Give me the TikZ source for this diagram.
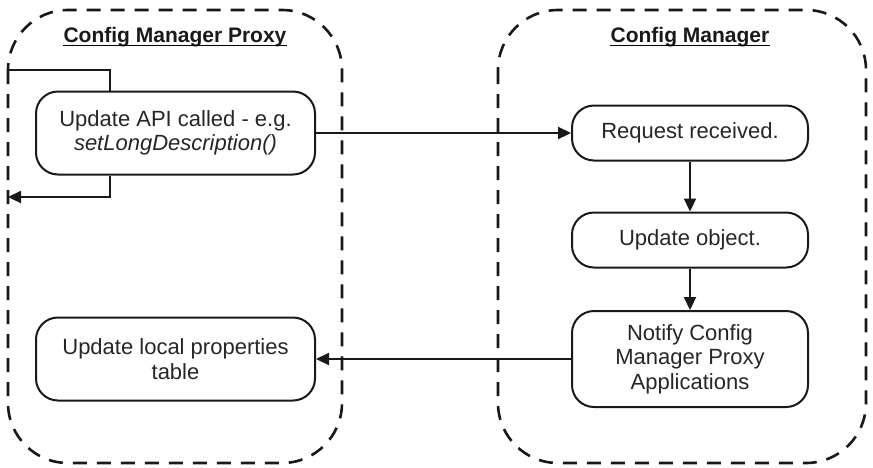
\documentclass[tikz,border=0pt]{standalone}
\usepackage{fontspec}
\setmainfont{Liberation Sans}
\usetikzlibrary{arrows.meta}
\begin{document}
\begin{tikzpicture}[x=1pt,y=-1pt,
  container/.style={draw=black!90, line width=2.6pt, dash pattern=on 14pt off 10pt, rounded corners=60pt},
  stepbox/.style={draw=black!90, line width=2pt, rounded corners=22pt, align=center, inner sep=0pt,
    font=\fontsize{22}{24.5}\selectfont, text=black!85},
  title/.style={font=\fontsize{21}{24}\selectfont\bfseries, inner sep=0pt, anchor=base, text=black!90},
  conn/.style={line width=2.2pt, draw=black!90},
  arr/.style={conn, -{Triangle[length=13pt,width=12pt]}}]
\useasboundingbox (0,0) rectangle (873,467);
% containers
\draw[container] (8,10) rectangle (342,463);
\draw[container] (498,10) rectangle (866,463);
% titles
\node[title] (t1) at (175,42) {Config Manager Proxy};
\node[title] (t2) at (690,42) {Config Manager};
\draw[line width=1.5pt] ([yshift=-3.5pt]t1.base west) -- ([yshift=-3.5pt]t1.base east);
\draw[line width=1.5pt] ([yshift=-3.5pt]t2.base west) -- ([yshift=-3.5pt]t2.base east);
% nodes
\node[stepbox, minimum width=279pt, minimum height=83pt] (api) at (175.5,133)
  {Update API called - e.g.\\ \itshape setLongDescription()};
\node[stepbox, minimum width=236pt, minimum height=55pt] (req) at (690,133) {Request received.};
\node[stepbox, minimum width=236pt, minimum height=55pt] (obj) at (690,240) {Update object.};
\node[stepbox, minimum width=236pt, minimum height=96pt] (notify) at (690,359)
  {Notify Config\\Manager Proxy\\Applications};
\node[stepbox, minimum width=279pt, minimum height=83pt] (local) at (175.5,359)
  {Update local properties\\table};
% connectors
\coordinate (inpt) at (8,70);
\coordinate (outpt) at (8,197);
\draw[conn] (inpt) -- (110,70) -- (api.north -| 110,0);
\draw[arr] (api.south -| 110,0) -- (110,197) -- (outpt);
\draw[arr] (api.east) -- (req.west);
\draw[arr] (req.south) -- (obj.north);
\draw[arr] (obj.south) -- (notify.north);
\draw[arr] (notify.west) -- (local.east);
\end{tikzpicture}
\end{document}
